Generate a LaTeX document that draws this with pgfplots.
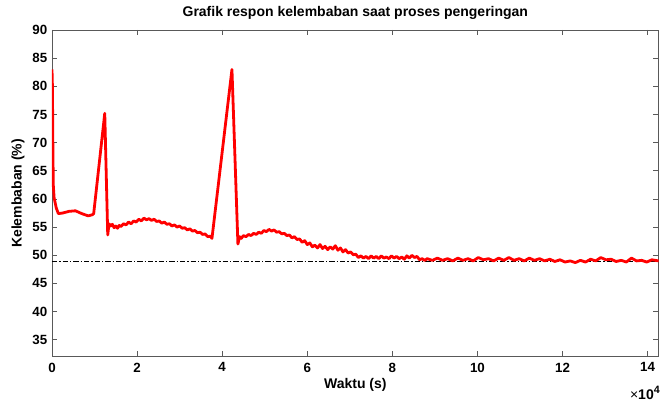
\documentclass[border=0pt]{standalone}
\usepackage{fontspec}
\setmainfont{Liberation Sans}
\usepackage{pgfplots}
\pgfplotsset{compat=1.18}
\definecolor{axgray}{gray}{0.35}
\begin{document}
\begin{tikzpicture}
\useasboundingbox (-39pt,-34.5pt) rectangle (456pt,267.5pt);
\begin{axis}[
  name=ax,
  scale only axis, width=455pt, height=245pt,
  xmin=0, xmax=14.26, ymin=32, ymax=90,
  xtick={0,2,...,14}, ytick={35,40,...,90},
  tick align=inside, tick pos=both, major tick length=4pt,
  axis line style={draw=axgray, line width=0.6pt},
  tick style={draw=axgray, line width=0.6pt},
  /pgf/number format/assume math mode=true,
  ticklabel style={font=\bfseries\fontsize{10}{12}\selectfont},
  xticklabel style={yshift=-1pt},
  label style={font=\bfseries\fontsize{10.5}{12}\selectfont},
  xlabel={Waktu (s)}, ylabel={Kelembaban (\%)},
  xlabel style={yshift=2pt},
  ylabel style={yshift=-1pt},
  title={Grafik respon kelembaban saat proses pengeringan},
  title style={font=\bfseries\fontsize{10.5}{12}\selectfont, yshift=-2pt},
  clip=true,
]
% reference level
\addplot[black, line width=0.5pt, dash pattern=on 4pt off 1.5pt on 1pt off 1.5pt] coordinates {(0,49) (14.26,49)};
% moisture response (x in units of 1e4 s)
\addplot[red, line width=2.1pt, line join=round] coordinates {
(0,83)(0.01,80)(0.02,70)(0.03,62.5)(0.05,60.2)(0.1,58.4)(0.15,57.4)(0.25,57.5)(0.4,57.8)(0.55,57.9)(0.7,57.4)(0.85,57.0)(0.95,57.2)(0.98,57.4)
(1.24,75.2)(1.31,53.6)
(1.34,55.6)(1.38,55.2)(1.42,55.5)(1.46,54.9)(1.5,55.2)(1.54,54.8)(1.58,55.3)(1.62,55.1)(1.68,55.6)(1.74,55.4)(1.8,55.9)(1.86,55.6)(1.92,56.1)(1.98,55.9)(2.04,56.4)(2.1,56.1)(2.16,56.6)(2.22,56.3)(2.28,56.5)(2.34,56.2)(2.4,56.4)(2.46,56.0)(2.52,56.1)(2.58,55.7)(2.64,55.9)(2.7,55.5)(2.76,55.6)(2.82,55.2)(2.88,55.4)(2.94,55.0)(3.0,55.2)(3.06,54.8)(3.12,54.9)(3.18,54.5)(3.24,54.7)(3.3,54.3)(3.36,54.4)(3.42,54.0)(3.48,54.1)(3.54,53.7)(3.6,53.8)(3.66,53.3)(3.72,53.4)(3.76,53.0)
(4.23,83.0)(4.37,52.0)
(4.41,53.3)(4.45,53.0)(4.5,53.5)(4.56,53.3)(4.62,53.7)(4.68,53.5)(4.74,53.9)(4.8,53.7)(4.86,54.1)(4.92,53.9)(4.98,54.4)(5.04,54.2)(5.1,54.6)(5.16,54.3)(5.22,54.5)(5.28,54.1)(5.34,54.2)(5.4,53.8)(5.46,53.9)(5.52,53.5)(5.58,53.6)(5.64,53.1)(5.7,53.3)(5.76,52.8)(5.82,52.9)(5.88,52.3)(5.94,52.6)(6.0,51.9)(6.06,52.2)(6.12,51.5)(6.18,51.8)(6.24,51.3)(6.3,51.9)(6.36,51.2)(6.42,51.6)(6.48,51.0)(6.54,51.5)(6.6,51.1)(6.66,51.7)(6.72,50.9)(6.78,51.3)(6.84,50.6)(6.9,51.0)(6.96,50.4)(7.02,50.6)(7.08,50.1)(7.14,50.2)(7.2,49.6)(7.26,49.9)(7.32,49.5)(7.38,49.8)(7.44,49.4)(7.5,49.9)(7.56,49.5)(7.62,49.8)(7.68,49.4)(7.74,49.9)(7.8,49.5)(7.86,49.7)(7.92,49.4)(7.98,49.9)(8.04,49.5)(8.1,49.8)(8.16,49.4)(8.22,49.7)(8.28,49.3)(8.34,49.9)(8.4,49.5)(8.46,50.0)(8.52,49.6)(8.58,49.8)(8.64,49.2)(8.7,49.4)(8.76,49.1)(8.82,49.4)
(8.94,49.1)(9.06,49.5)(9.18,49.1)(9.3,49.4)(9.42,49.0)(9.54,49.5)(9.66,49.1)(9.78,49.4)(9.9,49.0)(10.02,49.6)(10.14,49.2)(10.26,49.4)(10.38,49.0)(10.5,49.5)(10.62,49.1)(10.74,49.6)(10.86,49.1)(10.98,49.4)(11.1,49.0)(11.22,49.5)(11.34,49.1)(11.46,49.4)(11.58,49.0)(11.7,49.3)(11.82,48.9)(11.94,49.2)(12.06,48.8)(12.18,49.0)(12.3,48.7)(12.42,49.1)(12.54,48.8)(12.66,49.3)(12.78,49.0)(12.9,49.6)(13.02,49.2)(13.14,49.3)(13.26,48.9)(13.38,49.1)(13.5,48.8)(13.62,49.5)(13.74,49.0)(13.86,49.1)(13.98,48.8)(14.1,49.2)(14.26,49.0)
};
\end{axis}
\node[anchor=north east, inner sep=0pt]
  at ([xshift=1pt, yshift=-22pt]ax.south east)
  {\fontsize{10.5}{12}\selectfont ×\textbf{10}\raisebox{0.45em}{\fontsize{8}{9}\selectfont\bfseries 4}};
\end{tikzpicture}
\end{document}
